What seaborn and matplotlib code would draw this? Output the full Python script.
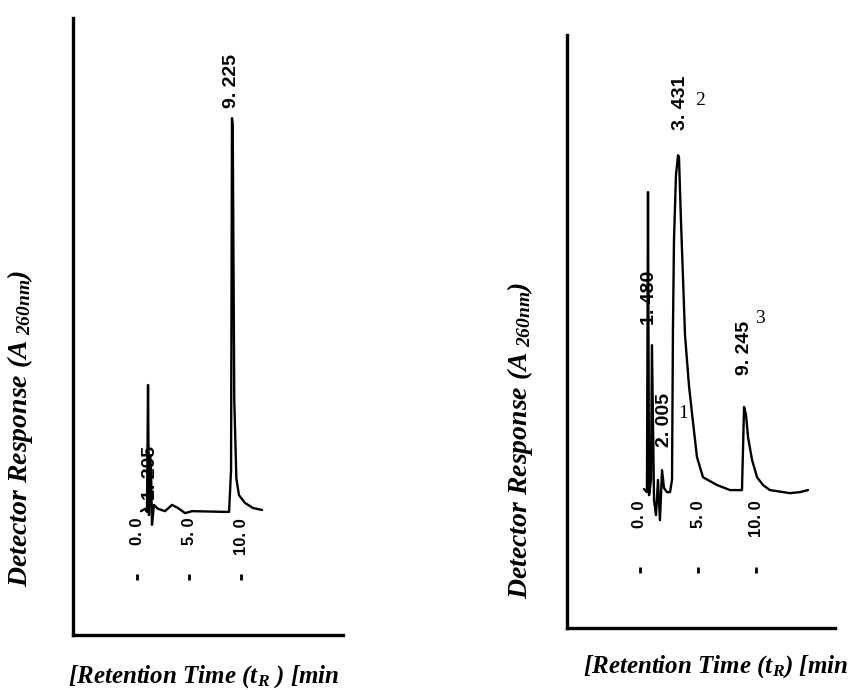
import matplotlib
matplotlib.use("Agg")
import matplotlib.pyplot as plt
import seaborn as sns
import pandas as pd

# traces: time in min, response in arbitrary units
left_time = [0.38, 0.77, 0.96, 1.06, 1.15, 1.25, 1.35, 1.44, 1.63, 2.02, 2.69, 3.37,
             3.94, 4.62, 5.29, 8.85, 9.04, 9.13, 9.2, 9.35, 9.55, 9.8, 10.38, 11.15, 12.02]
left_resp = [-0.3, 0.3, -0.5, 31.9, -1.3, 14.0, 10.2, -3.8, 1.3, 0.3, -0.3, 1.3,
             0.5, -0.8, -0.3, -0.5, 10.2, 100.0, 98.0, 28.0, 8.0, 3.8, 1.8, 0.5, 0.0]

right_time = [0.34, 0.6, 0.69, 0.78, 0.95, 1.03, 1.21, 1.38, 1.55, 1.72, 1.9, 2.07,
              2.33, 2.59, 2.76, 2.84, 2.93, 3.1, 3.28, 3.36, 3.53, 3.88, 4.22, 4.48,
              4.91, 5.43, 6.64, 7.76, 8.79, 8.97, 9.14, 9.31, 9.66, 10.09, 10.6, 11.2,
              12.93, 13.79, 14.48]
right_resp = [0.3, -0.6, 88.2, -1.5, 3.0, 42.9, -3.0, -7.4, 3.0, -8.9, 5.9, 0.6,
              -0.6, -0.6, 3.0, 47.3, 74.0, 93.2, 99.1, 98.5, 79.9, 45.9, 31.0, 22.8,
              9.8, 3.8, 1.5, 0.0, 0.0, 24.6, 22.2, 15.7, 8.9, 3.8, 1.5, 0.0,
              -0.9, -0.6, 0.0]

tick_times = [0, 5, 10]
tick_labels = ["0. 0", "5. 0", "10. 0"]

left_peaks = [(9.13, 102.6, "9. 225"), (1.25, 2.6, "1. 205")]
right_peaks = [(0.86, 48.8, "1. 480"), (2.07, 12.7, "2. 005"),
               (3.45, 106.5, "3. 431"), (9.05, 34.0, "9. 245")]
right_numbers = [(3.71, 22.8, "1"), (5.17, 115.4, "2"), (10.34, 50.9, "3")]

sns.set_theme(style="white")
plt.rcParams["font.family"] = ["Liberation Serif", "DejaVu Serif"]
plt.rcParams["text.color"] = "black"
plt.rcParams["mathtext.fontset"] = "custom"
plt.rcParams["mathtext.rm"] = "Liberation Serif:bold:italic"
plt.rcParams["mathtext.it"] = "Liberation Serif:bold:italic"
plt.rcParams["mathtext.bf"] = "Liberation Serif:bold:italic"

fig = plt.figure(figsize=(8.56, 6.9), dpi=100)
ax_l = fig.add_axes([0.0853, 0.0797, 0.3154, 0.894])
ax_r = fig.add_axes([0.6624, 0.0899, 0.3131, 0.859])


def chromatogram(ax, t, r, xlim, ylim, tick_y, dot_y):
    df = pd.DataFrame({"time": t, "resp": r})
    sns.lineplot(data=df, x="time", y="resp", sort=False, estimator=None,
                 color="black", lw=1.7, ax=ax)
    ax.set_xlim(*xlim)
    ax.set_ylim(*ylim)
    ax.set_xticks([])
    ax.set_yticks([])
    ax.set_xlabel("")
    ax.set_ylabel("")
    for s in ["top", "right"]:
        ax.spines[s].set_visible(False)
    for s in ["left", "bottom"]:
        ax.spines[s].set_color("black")
        ax.spines[s].set_linewidth(2.4)
    for tt, lab in zip(tick_times, tick_labels):
        ax.text(tt, tick_y, lab, rotation=90, ha="center", va="top", color="black",
                fontsize=12, fontweight="bold", family="Liberation Sans")
    ax.scatter(tick_times, [dot_y] * len(tick_times), marker="|", s=18,
               linewidths=2, color="black")


chromatogram(ax_l, left_time, left_resp, (-6.15, 19.8), (-31.9, 125.5), -2, -17.1)
chromatogram(ax_r, right_time, right_resp, (-6.29, 16.81), (-40.8, 134.6), -3, -23.7)

for tt, rr, lab in left_peaks:
    ax_l.text(tt, rr, lab, rotation=90, ha="center", va="bottom", color="black",
              fontsize=14, fontweight="bold", family="Liberation Sans")
for tt, rr, lab in right_peaks:
    ax_r.text(tt, rr, lab, rotation=90, ha="center", va="bottom", color="black",
              fontsize=14, fontweight="bold", family="Liberation Sans")
for tt, rr, lab in right_numbers:
    ax_r.text(tt, rr, lab, ha="center", va="center", fontsize=14, color="black",
              family="Liberation Serif")

ylab = "Detector Response (A$_{\\ 260nm}$)"
lab_kw = dict(fontweight="bold", fontstyle="italic", color="black",
              family="Liberation Serif")
fig.text(20 / 856, 1 - 428 / 690, ylab, rotation=90, ha="center", va="center",
         fontsize=20, **lab_kw)
fig.text(520 / 856, 1 - 440 / 690, ylab, rotation=90, ha="center", va="center",
         fontsize=20, **lab_kw)
fig.text(68 / 856, 1 - 677 / 690, "[Retention Time (t$_R$ ) [min", ha="left",
         va="center", fontsize=18, **lab_kw)
fig.text(583 / 856, 1 - 667 / 690, "[Retention Time (t$_R$) [min", ha="left",
         va="center", fontsize=18, **lab_kw)

fig.savefig("out.png", dpi=100)
